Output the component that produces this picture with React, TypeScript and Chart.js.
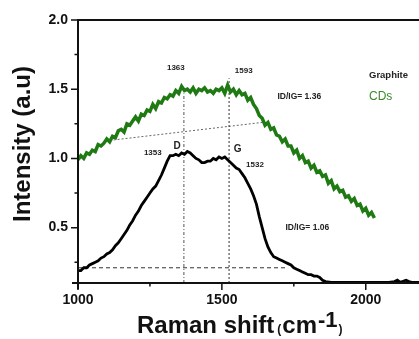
import React, { useEffect, useRef } from "react";
import { Chart, registerables } from "chart.js";

Chart.register(...registerables);

// ---- Data ----
const graphiteShift = [
  1000, 1010, 1020, 1030, 1040, 1050, 1060, 1070, 1080, 1090, 1100, 1110, 1120, 1130, 1140, 1150, 1160, 1170, 1180, 1190,
  1200, 1210, 1220, 1230, 1240, 1250, 1260, 1270, 1280, 1290, 1300, 1310, 1320, 1330, 1340, 1350, 1360, 1370, 1380, 1390,
  1400, 1410, 1420, 1430, 1440, 1450, 1460, 1470, 1480, 1490, 1500, 1510, 1520, 1530, 1540, 1550, 1560, 1570, 1580, 1590,
  1600, 1610, 1620, 1630, 1640, 1650, 1660, 1670, 1680, 1690, 1700, 1710, 1720, 1730, 1740, 1750, 1760, 1770, 1780, 1790,
  1800, 1810, 1820, 1830, 1840, 1850, 1860, 1880, 1920, 1960, 2000, 2040, 2080, 2100, 2110, 2120, 2140, 2150, 2160, 2190,
];
const graphiteIntensity = [
  0.19, 0.19, 0.21, 0.21, 0.23, 0.24, 0.25, 0.26, 0.28, 0.29, 0.31, 0.32, 0.34, 0.37, 0.39, 0.42, 0.45, 0.48, 0.52, 0.55,
  0.59, 0.62, 0.66, 0.69, 0.72, 0.75, 0.78, 0.8, 0.84, 0.88, 0.93, 0.98, 1.02, 1.02, 1.03, 1.02, 1.04, 1.03, 1.05, 1.04,
  1.02, 1.0, 0.99, 0.97, 0.97, 0.98, 0.98, 1.0, 0.99, 1.01, 1.0, 1.01, 0.99, 0.97, 0.95, 0.93, 0.92, 0.89, 0.86, 0.82,
  0.78, 0.73, 0.67, 0.58, 0.5, 0.42, 0.36, 0.32, 0.29, 0.28, 0.27, 0.26, 0.25, 0.24, 0.23, 0.21, 0.2, 0.19, 0.18, 0.17,
  0.16, 0.16, 0.15, 0.15, 0.14, 0.12, 0.11, 0.105, 0.105, 0.105, 0.105, 0.105, 0.105, 0.11, 0.12, 0.105, 0.12, 0.11, 0.105, 0.105,
];

const cdsShift = [
  1000, 1010, 1020, 1030, 1040, 1050, 1060, 1070, 1080, 1090, 1100, 1110, 1120, 1130, 1140, 1150, 1160, 1170, 1180, 1190,
  1200, 1210, 1220, 1230, 1240, 1250, 1260, 1270, 1280, 1290, 1300, 1310, 1320, 1330, 1340, 1350, 1360, 1370, 1380, 1390,
  1400, 1410, 1420, 1430, 1440, 1450, 1460, 1470, 1480, 1490, 1500, 1510, 1520, 1530, 1540, 1550, 1560, 1570, 1580, 1590,
  1600, 1610, 1620, 1630, 1640, 1650, 1660, 1670, 1680, 1690, 1700, 1710, 1720, 1730, 1740, 1750, 1760, 1770, 1780, 1790,
  1800, 1810, 1820, 1830, 1840, 1850, 1860, 1870, 1880, 1890, 1900, 1910, 1920, 1930, 1940, 1950, 1960, 1970, 1980, 1990,
  2000, 2010, 2020, 2030,
];
const cdsIntensity = [
  0.99, 1.02, 1.0, 1.04, 1.03, 1.06, 1.05, 1.1, 1.09, 1.11, 1.14, 1.12, 1.16, 1.15, 1.2, 1.21, 1.19, 1.25, 1.24, 1.27,
  1.3, 1.27, 1.32, 1.31, 1.35, 1.34, 1.39, 1.36, 1.41, 1.4, 1.44, 1.43, 1.46, 1.45, 1.49, 1.47, 1.52, 1.49, 1.5, 1.48,
  1.51, 1.47, 1.5, 1.49, 1.51, 1.48, 1.49, 1.47, 1.5, 1.49, 1.51, 1.47, 1.53, 1.48, 1.5, 1.46, 1.49, 1.46, 1.47, 1.42,
  1.44, 1.39, 1.36, 1.31, 1.29, 1.24, 1.26, 1.21, 1.22, 1.17, 1.16, 1.12, 1.14, 1.09, 1.09, 1.04, 1.06, 1.0, 1.02, 0.97,
  0.98, 0.93, 0.95, 0.9, 0.91, 0.87, 0.88, 0.82, 0.84, 0.78, 0.8, 0.76, 0.77, 0.72, 0.73, 0.69, 0.71, 0.66, 0.67, 0.62,
  0.64, 0.59, 0.61, 0.57,
];

// Guide lines (peak markers and baselines)
const dMarkerShift = [1368, 1368];
const dMarkerIntensity = [0.1, 1.47];
const gMarkerShift = [1525, 1525];
const gMarkerIntensity = [0.1, 1.58];
const cdsBaseShift = [1110, 1640];
const cdsBaseIntensity = [1.13, 1.26];
const graphiteBaseShift = [1000, 1730];
const graphiteBaseIntensity = [0.21, 0.21];

// Axes
const xTickValues = [1000, 1500, 2000];
const xMinorTicks = [1250, 1750];
const yTickValues = [0.5, 1.0, 1.5, 2.0];
const yTickLabels = ["0.5", "1.0", "1.5", "2.0"];
const yMinorTicks = [0.25, 0.75, 1.25, 1.75];

// Annotation texts
const noteTexts = ["1363", "1593", "ID/IG= 1.36", "1353", "D", "G", "1532", "ID/IG= 1.06"];
const noteShift = [1340, 1576, 1769, 1260, 1344, 1555, 1615, 1797];
const noteIntensity = [1.652, 1.633, 1.449, 1.043, 1.087, 1.065, 0.957, 0.5];
const legendLabels = ["Graphite", "CDs"];

const GREEN = "#1f7a14";
const FONT = "'Liberation Sans', Arial, sans-serif";

const toPoints = (xs: number[], ys: number[]) => xs.map((x, i) => ({ x, y: ys[i] }));

const decorPlugin = {
  id: "decor",
  afterDraw(chart: any) {
    const { ctx, chartArea } = chart;
    const x = chart.scales.x;
    const y = chart.scales.y;
    const { left, right, top, bottom } = chartArea;
    ctx.save();
    // frame
    ctx.strokeStyle = "#111";
    ctx.lineWidth = 2;
    ctx.beginPath();
    ctx.moveTo(left, top);
    ctx.lineTo(right, top);
    ctx.moveTo(left, top - 1);
    ctx.lineTo(left, bottom + 6);
    ctx.moveTo(left - 6, bottom);
    ctx.lineTo(right, bottom);
    ctx.stroke();
    // ticks
    ctx.lineWidth = 1.5;
    ctx.beginPath();
    yTickValues.forEach((v) => {
      const py = y.getPixelForValue(v);
      ctx.moveTo(left - 7, py);
      ctx.lineTo(left, py);
    });
    yMinorTicks.forEach((v) => {
      const py = y.getPixelForValue(v);
      ctx.moveTo(left - 3.5, py);
      ctx.lineTo(left, py);
    });
    xTickValues.forEach((v) => {
      const px = x.getPixelForValue(v);
      ctx.moveTo(px, bottom);
      ctx.lineTo(px, bottom + 7);
    });
    xMinorTicks.forEach((v) => {
      const px = x.getPixelForValue(v);
      ctx.moveTo(px, bottom);
      ctx.lineTo(px, bottom + 3.5);
    });
    ctx.stroke();

    // annotations
    ctx.fillStyle = "#222";
    ctx.textAlign = "center";
    ctx.textBaseline = "middle";
    noteTexts.forEach((t, i) => {
      const big = t === "D" || t === "G";
      const ratio = t.startsWith("ID");
      ctx.font = `bold ${big ? 10 : ratio ? 8.5 : 8}px ${FONT}`;
      ctx.fillText(t, x.getPixelForValue(noteShift[i]), y.getPixelForValue(noteIntensity[i]));
    });

    // legend texts
    ctx.textAlign = "left";
    ctx.font = `bold 9.5px ${FONT}`;
    ctx.fillStyle = "#222";
    ctx.fillText(legendLabels[0], 369, 75);
    ctx.font = `12px ${FONT}`;
    ctx.fillStyle = "#3a8a2a";
    ctx.fillText(legendLabels[1], 369, 97);

    // y title
    ctx.fillStyle = "#111";
    ctx.save();
    ctx.translate(23, 144);
    ctx.rotate(-Math.PI / 2);
    ctx.textAlign = "center";
    ctx.textBaseline = "middle";
    ctx.font = `bold 24px ${FONT}`;
    ctx.fillText("Intensity (a.u)", 0, 0);
    ctx.restore();

    // x title
    ctx.textAlign = "left";
    ctx.textBaseline = "alphabetic";
    let cx = 137;
    const base = 333;
    ctx.font = `bold 24px ${FONT}`;
    ctx.fillText("Raman shift", cx, base);
    cx += ctx.measureText("Raman shift").width + 3;
    ctx.font = `bold 12px ${FONT}`;
    ctx.fillText("(", cx, base);
    cx += ctx.measureText("(").width + 1;
    ctx.font = `bold 24px ${FONT}`;
    ctx.fillText("cm", cx, base);
    cx += ctx.measureText("cm").width + 1;
    ctx.font = `bold 22px ${FONT}`;
    ctx.fillText("-1", cx, base - 6);
    cx += ctx.measureText("-1").width + 1;
    ctx.font = `bold 12px ${FONT}`;
    ctx.fillText(")", cx, base);
    ctx.restore();
  },
};

export default function App() {
  const canvasRef = useRef<HTMLCanvasElement | null>(null);

  useEffect(() => {
    if (!canvasRef.current) return;
    const chart = new Chart(canvasRef.current, {
      type: "line",
      data: {
        datasets: [
          {
            label: "CDs",
            data: toPoints(cdsShift, cdsIntensity),
            borderColor: GREEN,
            borderWidth: 3.5,
            pointRadius: 0,
            tension: 0,
          },
          {
            label: "Graphite",
            data: toPoints(graphiteShift, graphiteIntensity),
            borderColor: "#000",
            borderWidth: 2.8,
            pointRadius: 0,
            tension: 0,
          },
          {
            label: "D marker",
            data: toPoints(dMarkerShift, dMarkerIntensity),
            borderColor: "#555",
            borderWidth: 1,
            borderDash: [3, 2, 1, 2],
            pointRadius: 0,
          },
          {
            label: "G marker",
            data: toPoints(gMarkerShift, gMarkerIntensity),
            borderColor: "#333",
            borderWidth: 1,
            borderDash: [2, 2],
            pointRadius: 0,
          },
          {
            label: "CDs baseline",
            data: toPoints(cdsBaseShift, cdsBaseIntensity),
            borderColor: "#666",
            borderWidth: 1,
            borderDash: [2, 2],
            pointRadius: 0,
          },
          {
            label: "Graphite baseline",
            data: toPoints(graphiteBaseShift, graphiteBaseIntensity),
            borderColor: "#333",
            borderWidth: 1,
            borderDash: [4, 3],
            pointRadius: 0,
          },
        ],
      },
      options: {
        responsive: false,
        animation: false,
        layout: { padding: { top: 20, left: 0, right: 0, bottom: 0 } },
        plugins: { legend: { display: false }, tooltip: { enabled: false } },
        scales: {
          x: {
            type: "linear",
            min: 1000,
            max: 2185,
            afterBuildTicks: (s: any) => {
              s.ticks = xTickValues.map((v) => ({ value: v }));
            },
            afterFit: (s: any) => {
              s.height = 56;
            },
            grid: { display: false, drawTicks: false },
            border: { display: false },
            ticks: {
              padding: 9,
              autoSkip: false,
              maxRotation: 0,
              color: "#111",
              font: { family: FONT, size: 14, weight: "bold" },
              callback: (v: any) => String(v),
            },
          },
          y: {
            type: "linear",
            min: 0.1,
            max: 2.0,
            afterBuildTicks: (s: any) => {
              s.ticks = yTickValues.map((v) => ({ value: v }));
            },
            afterFit: (s: any) => {
              s.width = 78;
            },
            grid: { display: false, drawTicks: false },
            border: { display: false },
            ticks: {
              padding: 10,
              color: "#111",
              font: { family: FONT, size: 14, weight: "bold" },
              callback: (v: any) => {
                const i = yTickValues.indexOf(Number(v));
                return i >= 0 ? yTickLabels[i] : "";
              },
            },
          },
        },
      },
      plugins: [decorPlugin],
    } as any);
    return () => chart.destroy();
  }, []);

  return (
    <div style={{ position: "absolute", left: 0, top: 0, width: 419, height: 339, background: "#fff" }}>
      <canvas ref={canvasRef} width={419} height={339} style={{ display: "block" }} />
    </div>
  );
}
